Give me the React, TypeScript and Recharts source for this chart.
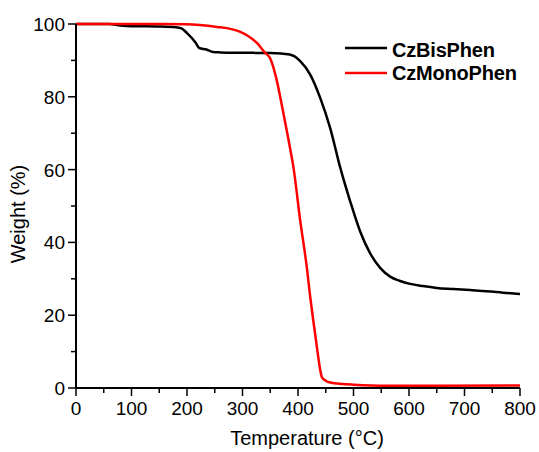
import React from 'react';
import { LineChart, Line, XAxis, YAxis, Legend } from 'recharts';

// TGA curves: temperature (°C) / weight (%)
const bisTemp = [0, 60, 80, 100, 150, 180, 190, 200, 215, 222, 235, 247, 260, 300, 350, 385, 404, 422, 440, 458, 476, 494, 512, 530, 548, 566, 584, 602, 625, 650, 680, 710, 740, 769, 800];
const bisWeight = [100, 100, 99.6, 99.4, 99.3, 99.1, 98.8, 97.5, 95, 93.4, 93.0, 92.3, 92.2, 92.1, 92.0, 91.6, 89.8, 86.1, 79.7, 71.4, 60.6, 51.3, 43, 37, 33, 30.6, 29.4, 28.6, 28, 27.5, 27.2, 26.9, 26.6, 26.2, 25.8];

const monoTemp = [0, 150, 200, 223, 254, 280, 295, 310, 326, 340, 350, 361, 373, 385, 392, 404, 416, 422, 428, 434, 440, 443, 450, 458, 480, 500, 560, 650, 800];
const monoWeight = [100, 100, 99.9, 99.7, 99.2, 98.6, 97.9, 96.7, 94.8, 92.2, 90.5, 85, 76, 66.5, 60.4, 46, 33, 25, 18, 11.3, 5, 3, 2, 1.5, 1.1, 0.9, 0.6, 0.6, 0.7];

const seriesNames = ['CzBisPhen', 'CzMonoPhen'];
const seriesColors = ['#000000', '#ff0000'];

const xTicks = [0, 50, 100, 150, 200, 250, 300, 350, 400, 450, 500, 550, 600, 650, 700, 750, 800];
const yTicks = [0, 10, 20, 30, 40, 50, 60, 70, 80, 90, 100];

const bisData = bisTemp.map((t, i) => ({ t, w: bisWeight[i] }));
const monoData = monoTemp.map((t, i) => ({ t, w: monoWeight[i] }));

const FONT = '"Liberation Sans", Arial, sans-serif';
const AXIS = { stroke: '#000', strokeWidth: 2 };
const TICK = { stroke: '#000', strokeWidth: 1.5 };

const XTick = (props: any) => {
  const { x, y, payload } = props;
  const major = payload.value % 100 === 0;
  return (
    <g>
      <line x1={x} x2={x} y1={y} y2={y + (major ? 8 : 5)} stroke="#000" strokeWidth={1.5} />
      {major && (
        <text x={x} y={y + 26.5} textAnchor="middle" fontSize={19} fontFamily={FONT} fill="#000">
          {payload.value}
        </text>
      )}
    </g>
  );
};

const YTick = (props: any) => {
  const { x, y, payload } = props;
  const major = payload.value % 20 === 0;
  return (
    <g>
      <line x1={x} x2={x - (major ? 8 : 5)} y1={y} y2={y} stroke="#000" strokeWidth={1.5} />
      {major && (
        <text x={x - 11} y={y + 7} textAnchor="end" fontSize={19} fontFamily={FONT} fill="#000">
          {payload.value}
        </text>
      )}
    </g>
  );
};

const XTitle = (props: any) => {
  const { x, y, width } = props.viewBox;
  return (
    <text x={x + width / 2 + 9} y={y + 57} textAnchor="middle" fontSize={20} fontFamily={FONT} fill="#000">
      Temperature (°C)
    </text>
  );
};

const YTitle = (props: any) => {
  const { x, y, height } = props.viewBox;
  const cx = x + 25;
  const cy = y + height / 2 + 8;
  return (
    <text x={cx} y={cy} transform={`rotate(-90, ${cx}, ${cy})`} textAnchor="middle" fontSize={20} fontFamily={FONT} fill="#000">
      Weight (%)
    </text>
  );
};

const LegendContent = (props: any) => {
  const items = props.payload || [];
  return (
    <svg width={200} height={60} style={{ overflow: 'visible' }}>
      {items.map((item: any, i: number) => (
        <g key={item.value}>
          <line x1={5} x2={47} y1={18 + i * 25} y2={18 + i * 25} stroke={item.color} strokeWidth={2.5} />
          <text x={52} y={26.5 + i * 23.5} fontSize={20} fontWeight="bold" letterSpacing={-0.2} fontFamily={FONT} fill="#000">
            {item.value}
          </text>
        </g>
      ))}
    </svg>
  );
};

export default function App() {
  return (
    <div style={{ position: 'absolute', left: 0, top: 0, background: '#fff' }}>
      <LineChart width={539} height={452} margin={{ top: 24, right: 19, bottom: 0, left: 0 }}>
        <XAxis
          dataKey="t"
          type="number"
          domain={[0, 800]}
          ticks={xTicks}
          interval={0}
          height={64}
          tickSize={0}
          tickMargin={0}
          tickLine={false}
          axisLine={AXIS}
          tick={<XTick />}
          label={{ content: XTitle }}
        />
        <XAxis
          xAxisId="top"
          orientation="top"
          type="number"
          domain={[0, 800]}
          ticks={xTicks}
          interval={0}
          height={0}
          mirror
          tickSize={3}
          tick={false}
          tickLine={TICK}
          axisLine={AXIS}
        />
        <YAxis
          type="number"
          domain={[0, 100]}
          ticks={yTicks}
          interval={0}
          width={76}
          tickSize={0}
          tickMargin={0}
          tickLine={false}
          axisLine={AXIS}
          tick={<YTick />}
          label={{ content: YTitle }}
        />
        <YAxis
          yAxisId="right"
          orientation="right"
          type="number"
          domain={[0, 100]}
          ticks={yTicks}
          interval={0}
          width={0}
          mirror
          tickSize={3}
          tick={false}
          tickLine={TICK}
          axisLine={AXIS}
        />
        <Legend
          layout="horizontal"
          verticalAlign="middle"
          align="center"
          wrapperStyle={{ left: 340, top: 30, width: 200, height: 60 }}
          content={LegendContent}
        />
        <Line
          data={bisData}
          dataKey="w"
          name={seriesNames[0]}
          type="monotone"
          stroke={seriesColors[0]}
          strokeWidth={2.5}
          dot={false}
          isAnimationActive={false}
        />
        <Line
          data={monoData}
          dataKey="w"
          name={seriesNames[1]}
          type="monotone"
          stroke={seriesColors[1]}
          strokeWidth={2.5}
          dot={false}
          isAnimationActive={false}
        />
      </LineChart>
    </div>
  );
}
